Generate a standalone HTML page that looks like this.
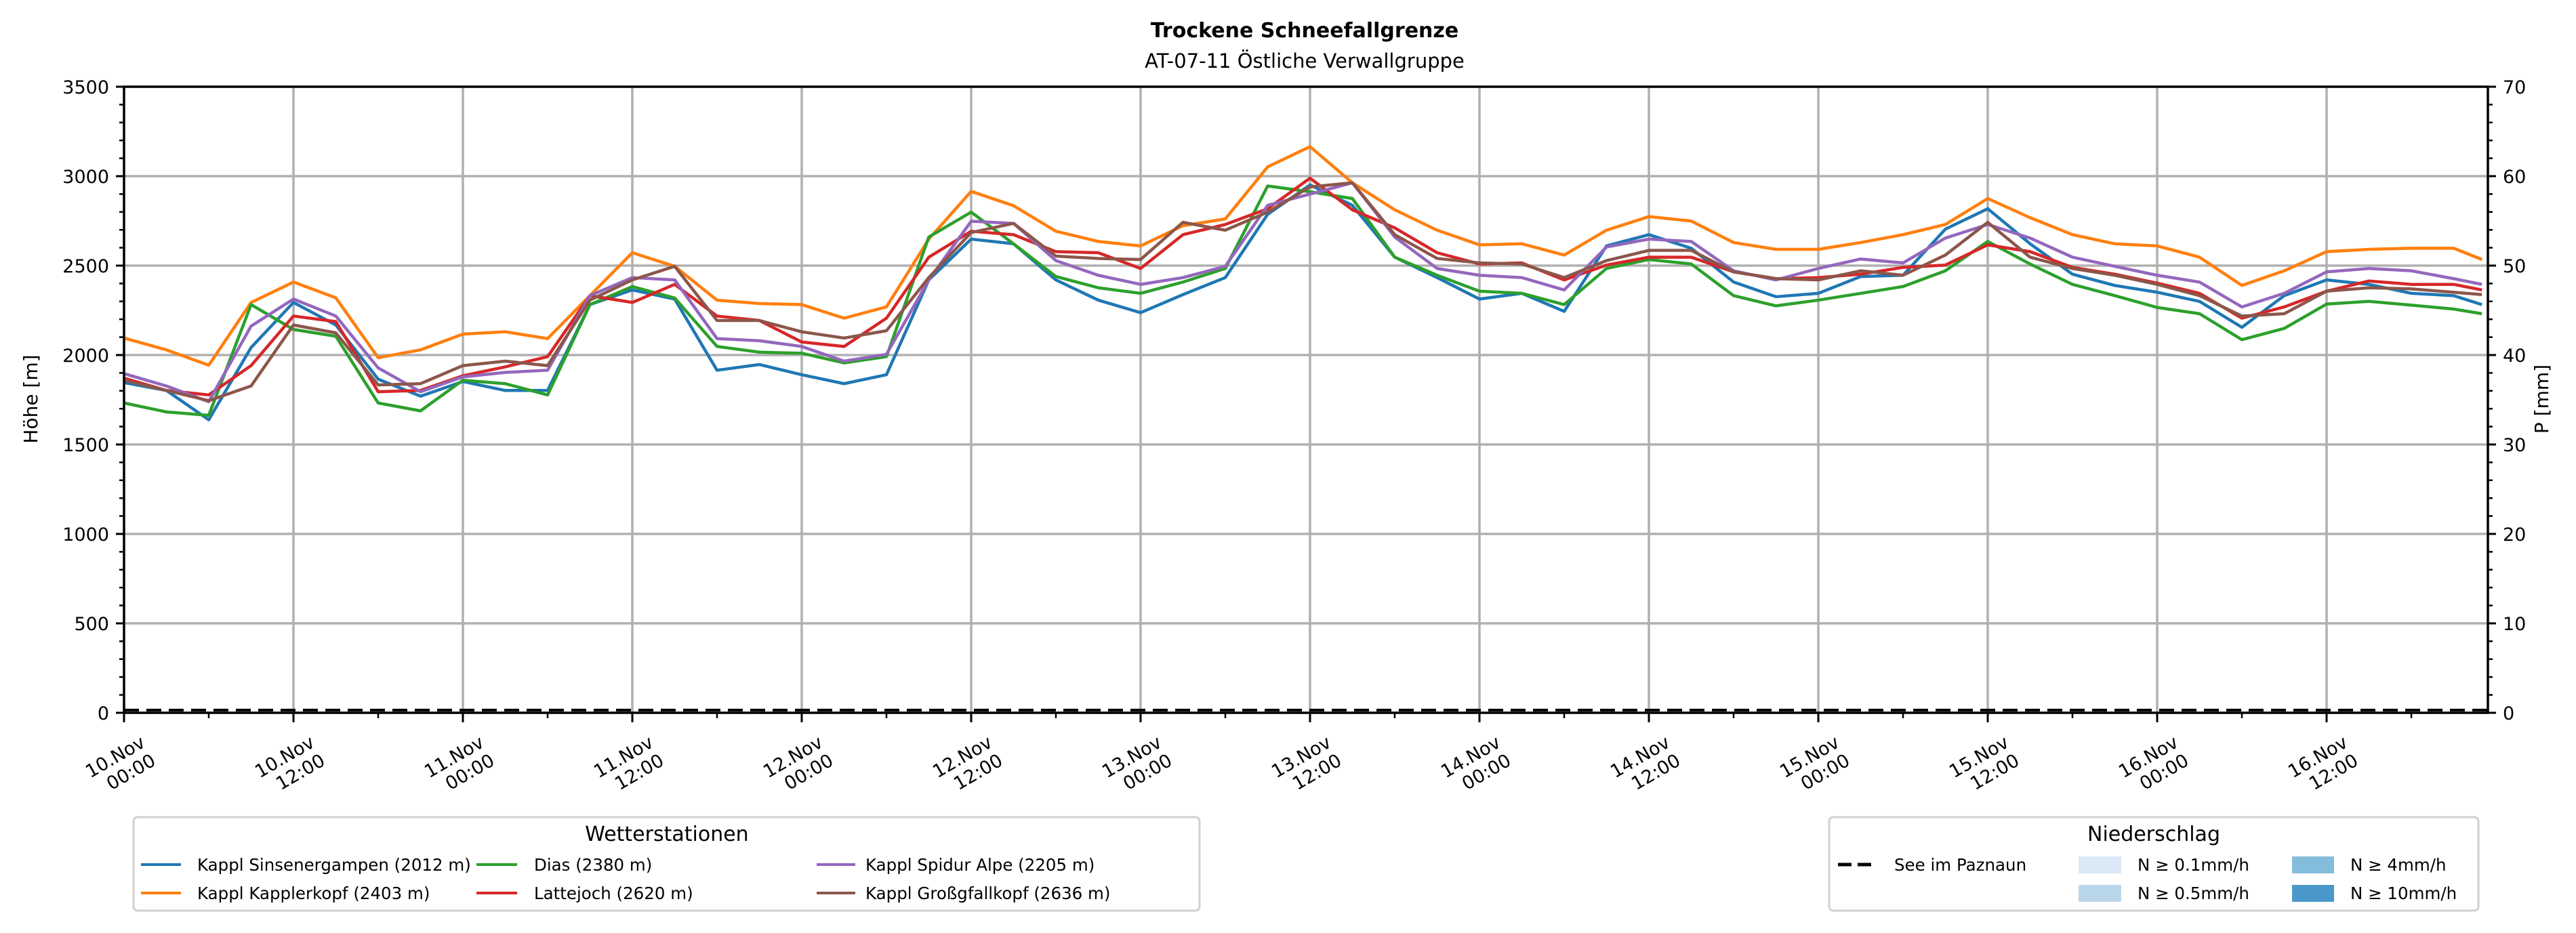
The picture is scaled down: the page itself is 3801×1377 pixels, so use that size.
<!DOCTYPE html>
<html><head><meta charset="utf-8">
<style>
html,body{margin:0;padding:0;background:#fff;}
svg{display:block;font-family:"DejaVu Sans","Liberation Sans",sans-serif;}
</style></head>
<body>
<svg id="chart" width="3801" height="1377" viewBox="0 0 3801 1377" xmlns="http://www.w3.org/2000/svg">
<rect width="3801" height="1377" fill="#fff"/>
<text x="1925" y="55" text-anchor="middle" font-size="30" font-weight="bold">Trockene Schneefallgrenze</text>
<text x="1925" y="100" text-anchor="middle" font-size="29">AT-07-11 Östliche Verwallgruppe</text>
<g id="grid"></g>
<g id="series"></g>
<g id="axes"></g>
<text transform="translate(55,589) rotate(-90)" text-anchor="middle" font-size="28">Höhe [m]</text>
<text transform="translate(3760,589) rotate(-90)" text-anchor="middle" font-size="28">P [mm]</text>

<g>
<rect x="197" y="1206" width="1573" height="138" rx="6" fill="#fff" stroke="#d0d0d0" stroke-width="3"/>
<text x="984" y="1241" text-anchor="middle" font-size="30">Wetterstationen</text>
<g><line x1="208" y1="1276" x2="267" y2="1276" stroke="#1f77b4" stroke-width="4"/><text x="291" y="1285" font-size="24.5">Kappl Sinsenergampen (2012 m)</text></g>
<g><line x1="208" y1="1318" x2="267" y2="1318" stroke="#ff7f0e" stroke-width="4"/><text x="291" y="1327" font-size="24.5">Kappl Kapplerkopf (2403 m)</text></g>
<g><line x1="703" y1="1276" x2="763" y2="1276" stroke="#2ca02c" stroke-width="4"/><text x="788" y="1285" font-size="24.5">Dias (2380 m)</text></g>
<g><line x1="703" y1="1318" x2="763" y2="1318" stroke="#d62728" stroke-width="4"/><text x="788" y="1327" font-size="24.5">Lattejoch (2620 m)</text></g>
<g><line x1="1205" y1="1276" x2="1262" y2="1276" stroke="#9467bd" stroke-width="4"/><text x="1277" y="1285" font-size="24.5">Kappl Spidur Alpe (2205 m)</text></g>
<g><line x1="1205" y1="1318" x2="1262" y2="1318" stroke="#8c564b" stroke-width="4"/><text x="1277" y="1327" font-size="24.5">Kappl Großgfallkopf (2636 m)</text></g>
</g>

<g>
<rect x="2699" y="1206" width="958" height="138" rx="6" fill="#fff" stroke="#d0d0d0" stroke-width="3"/>
<text x="3178" y="1241" text-anchor="middle" font-size="30">Niederschlag</text>
<g><line x1="2712" y1="1276" x2="2768" y2="1276" stroke="#000" stroke-width="5" stroke-dasharray="20,9"/><text x="2795" y="1285" font-size="24.5">See im Paznaun</text></g>
<g><rect x="3067" y="1264" width="63" height="25" fill="#dbe9f6"/><text x="3154" y="1285" font-size="24.5">N ≥ 0.1mm/h</text></g>
<g><rect x="3067" y="1306" width="63" height="25" fill="#bad6eb"/><text x="3154" y="1327" font-size="24.5">N ≥ 0.5mm/h</text></g>
<g><rect x="3382" y="1264" width="62" height="25" fill="#84bcdb"/><text x="3468" y="1285" font-size="24.5">N ≥ 4mm/h</text></g>
<g><rect x="3382" y="1306" width="62" height="25" fill="#4a98c9"/><text x="3468" y="1327" font-size="24.5">N ≥ 10mm/h</text></g>
</g>
</svg>
<script>
const hours = [0,3,6,9,12,15,18,21,24,27,30,33,36,39,42,45,48,51,54,57,60,63,66,69,72,75,78,81,84,87,90,93,96,99,102,105,108,111,114,117,120,123,126,129,132,135,138,141,144,147,150,153,156,159,162,165,167];
const sinsenergampen = [1846,1802,1638,2042,2294,2168,1865,1770,1852,1802,1802,2282,2364,2313,1915,1947,1890,1840,1890,2420,2648,2622,2420,2307,2237,2338,2433,2787,2951,2837,2547,2433,2313,2345,2244,2610,2673,2597,2408,2326,2345,2439,2446,2704,2818,2622,2452,2389,2351,2300,2155,2332,2420,2395,2345,2332,2282];
const kapplerkopf = [2095,2029,1943,2294,2408,2320,1985,2029,2117,2130,2092,2332,2572,2496,2307,2288,2282,2206,2269,2648,2915,2835,2692,2635,2610,2723,2761,3052,3165,2963,2812,2698,2616,2622,2559,2698,2774,2749,2629,2591,2591,2629,2673,2730,2875,2768,2673,2622,2610,2547,2389,2471,2578,2591,2597,2597,2534];
const dias = [1732,1682,1663,2282,2143,2105,1732,1688,1859,1840,1777,2282,2383,2319,2048,2016,2010,1956,1991,2660,2799,2622,2439,2376,2345,2408,2484,2945,2913,2875,2547,2446,2357,2345,2282,2484,2534,2509,2332,2275,2307,2345,2383,2471,2635,2509,2395,2332,2266,2231,2086,2149,2285,2300,2279,2257,2231];
const lattejoch = [1871,1802,1777,1941,2218,2187,1795,1802,1884,1934,1991,2332,2294,2395,2218,2193,2073,2048,2206,2547,2692,2673,2578,2572,2484,2673,2730,2818,2989,2812,2711,2572,2509,2515,2420,2503,2547,2547,2465,2427,2433,2452,2490,2503,2616,2578,2490,2452,2402,2345,2206,2269,2357,2414,2395,2395,2364];
const spidurAlpe = [1896,1827,1739,2162,2313,2218,1928,1795,1878,1903,1915,2332,2433,2420,2092,2080,2048,1966,2004,2420,2748,2736,2528,2446,2395,2433,2496,2837,2900,2963,2660,2484,2446,2433,2364,2604,2648,2635,2471,2420,2484,2537,2515,2654,2730,2654,2547,2496,2446,2408,2269,2345,2465,2484,2471,2427,2395];
const grossgfallkopf = [1859,1802,1745,1827,2168,2124,1833,1840,1941,1966,1941,2307,2420,2496,2193,2193,2130,2095,2136,2433,2685,2736,2553,2540,2534,2742,2698,2799,2940,2963,2673,2540,2515,2509,2433,2528,2585,2585,2465,2427,2420,2471,2446,2559,2742,2547,2484,2446,2395,2332,2218,2231,2357,2376,2370,2351,2338];
const yTicks = [0,500,1000,1500,2000,2500,3000,3500];
const y2Ticks = [0,10,20,30,40,50,60,70];
const xTickLabels = [["10.Nov","00:00"],["10.Nov","12:00"],["11.Nov","00:00"],["11.Nov","12:00"],["12.Nov","00:00"],["12.Nov","12:00"],["13.Nov","00:00"],["13.Nov","12:00"],["14.Nov","00:00"],["14.Nov","12:00"],["15.Nov","00:00"],["15.Nov","12:00"],["16.Nov","00:00"],["16.Nov","12:00"]];
const lakePrecip = [0,0];

const NS="http://www.w3.org/2000/svg";
const L=183,R=3671,T=128,B=1052;
function xs(h){return L+h*(250/12);}
function ys(v){return B-v*(B-T)/3500;}
function y2s(v){return B-v*(B-T)/70;}
function mk(tag,attrs,parent){const e=document.createElementNS(NS,tag);for(const k in attrs)e.setAttribute(k,attrs[k]);parent.appendChild(e);return e;}
const grid=document.getElementById('grid'),axes=document.getElementById('axes'),ser=document.getElementById('series');

yTicks.forEach(v=>{
  if(v>0&&v<3500){const g=mk('line',{x1:L,x2:R,y1:ys(v),y2:ys(v),stroke:'#b0b0b0','stroke-width':3.5},grid);
  
  }
  mk('line',{x1:L-12,x2:L,y1:ys(v),y2:ys(v),stroke:'#000','stroke-width':3},axes);
  const t=mk('text',{x:L-22,y:ys(v)+10,'text-anchor':'end','font-size':27},axes);t.textContent=v;
  
  
});
for(let v=100;v<3500;v+=100){if(v%500)mk('line',{x1:L-7,x2:L,y1:ys(v),y2:ys(v),stroke:'#000','stroke-width':2.5},axes);}
y2Ticks.forEach(v=>{
  mk('line',{x1:R,x2:R+12,y1:y2s(v),y2:y2s(v),stroke:'#000','stroke-width':3},axes);
  const t=mk('text',{x:R+22,y:y2s(v)+10,'font-size':27},axes);t.textContent=v;
  
  
});
for(let v=2;v<70;v+=2){if(v%10)mk('line',{x1:R,x2:R+7,y1:y2s(v),y2:y2s(v),stroke:'#000','stroke-width':2.5},axes);}
xTickLabels.forEach((lab,i)=>{
  const x=xs(i*12);
  if(i>0){const g=mk('line',{x1:x,x2:x,y1:T,y2:B,stroke:'#b0b0b0','stroke-width':3.5},grid);
  
  }
  mk('line',{x1:x,x2:x,y1:B,y2:B+14,stroke:'#000','stroke-width':3},axes);
  mk('line',{x1:xs(i*12+6),x2:xs(i*12+6),y1:B,y2:B+8,stroke:'#000','stroke-width':2.5},axes);
  const g=mk('g',{transform:`translate(${x+33},1101) rotate(-30)`},axes);
  
  
  const a=mk('text',{x:0,y:0,'text-anchor':'end','font-size':27},g);a.textContent=lab[0];
  const b=mk('text',{x:0,y:31,'text-anchor':'end','font-size':27},g);b.textContent=lab[1];
});
const series=[[sinsenergampen,'#1f77b4','line-sinsenergampen'],[kapplerkopf,'#ff7f0e','line-kapplerkopf'],[dias,'#2ca02c','line-dias'],[lattejoch,'#d62728','line-lattejoch'],[spidurAlpe,'#9467bd','line-spidur-alpe'],[grossgfallkopf,'#8c564b','line-grossgfallkopf']];
series.forEach(([d,c,n])=>{
  const p=mk('polyline',{points:d.map((v,i)=>xs(hours[i])+','+ys(v)).join(' '),fill:'none',stroke:c,'stroke-width':4.5,'stroke-linejoin':'round'},ser);
  
  
});
const lake=mk('line',{x1:L,x2:R,y1:y2s(lakePrecip[0])-4,y2:y2s(lakePrecip[1])-4,stroke:'#000','stroke-width':4,'stroke-dasharray':'22,11'},ser);


const frame=mk('rect',{x:L,y:T,width:R-L,height:B-T,fill:'none',stroke:'#000','stroke-width':3.5},axes);


</script>
</body></html>
